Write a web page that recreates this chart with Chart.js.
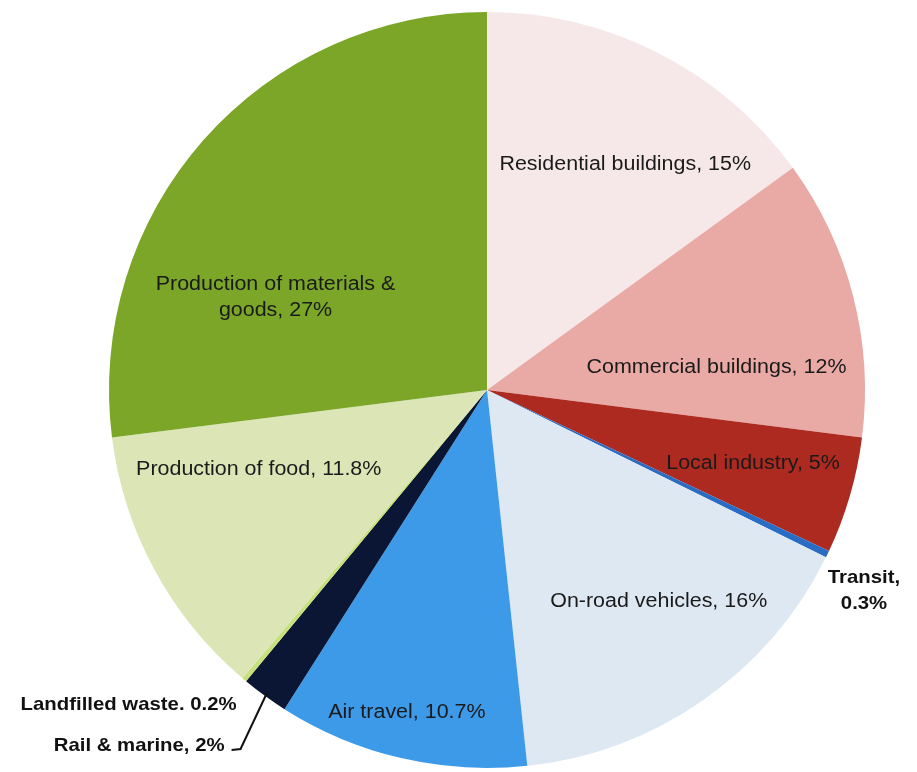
<!DOCTYPE html>
<html>
<head>
<meta charset="utf-8">
<script src="https://cdn.jsdelivr.net/npm/chart.js@4"></script>
<style>
  html, body { margin: 0; padding: 0; background: #fff; }
  #wrap { width: 917px; height: 772px; position: relative; }
</style>
</head>
<body>
<div id="wrap"><canvas id="chart"></canvas></div>
<script>
// 데이터 (12시 방향부터 시계방향)
const categories = [
  "Residential buildings", "Commercial buildings", "Local industry", "Transit",
  "On-road vehicles", "Air travel", "Rail & marine", "Landfilled waste",
  "Production of food", "Production of materials & goods"
];
const shares = [15, 12, 5, 0.3, 16, 10.7, 2, 0.2, 11.8, 27];
const labelTexts = [
  ["Residential buildings, 15%"],
  ["Commercial buildings, 12%"],
  ["Local industry, 5%"],
  ["Transit,", "0.3%"],
  ["On-road vehicles, 16%"],
  ["Air travel, 10.7%"],
  ["Rail & marine, 2%"],
  ["Landfilled waste. 0.2%"],
  ["Production of food, 11.8%"],
  ["Production of materials &", "goods, 27%"]
];
const sliceColors = [
  "#f6e8e8", "#e9aaa6", "#ad2a20", "#2a6cc4", "#dde8f3",
  "#3d9ae8", "#0b1634", "#c6e07a", "#dce5b6", "#7ba628"
];

// 라벨 위치: [반지름 비율, 각도 보정(도), 정렬, 바깥 라벨 여부]
const labelPlace = [
  [0.70, 4.5, "center", false],
  [0.61, 8.9, "center", false],
  [0.73, -0.8, "center", false],
  [1.13, 2.3, "center", true],
  [0.72, -4.2, "center", false],
  [0.88, 0.8, "center", false],
  [1.17, 0.4, "right", true],
  [1.065, -1.5, "right", true],
  [0.64, 9.1, "center", false],
  [0.61, -17.9, "center", false]
];

const sliceLabels = {
  id: "sliceLabels",
  afterDatasetsDraw(chart) {
    const ctx = chart.ctx;
    const arcs = chart.getDatasetMeta(0).data;
    ctx.save();
    arcs.forEach((arc, i) => {
      const p = arc.getProps(["x", "y", "startAngle", "endAngle", "outerRadius"], true);
      const [f, off, align, outside] = labelPlace[i];
      const a = (p.startAngle + p.endAngle) / 2 + off * Math.PI / 180;
      const lx = p.x + Math.cos(a) * p.outerRadius * f;
      const ly = p.y + Math.sin(a) * p.outerRadius * f;
      ctx.font = outside ? "bold 18.5px 'Liberation Sans', Arial, sans-serif"
                         : "19.5px 'Liberation Sans', Arial, sans-serif";
      ctx.fillStyle = outside ? "#111" : "#1a1a1a";
      ctx.textAlign = align;
      ctx.textBaseline = "middle";
      const lines = labelTexts[i];
      const lh = 26;
      lines.forEach((t, k) => {
        const y = ly + (k - (lines.length - 1) / 2) * lh;
        ctx.save();
        ctx.translate(lx, y);
        ctx.scale(1.1, 1);
        ctx.fillText(t, 0, 0);
        ctx.restore();
      });
      // Rail & marine 지시선
      if (i === 6) {
        const ma = (p.startAngle + p.endAngle) / 2;
        const ex = p.x + Math.cos(ma) * p.outerRadius * 0.99;
        const ey = p.y + Math.sin(ma) * p.outerRadius * 0.99;
        ctx.strokeStyle = "#111";
        ctx.lineWidth = 2;
        ctx.beginPath();
        ctx.moveTo(lx + 7, ly + 4);
        ctx.lineTo(lx + 16, ly + 3);
        ctx.lineTo(ex, ey);
        ctx.stroke();
      }
    });
    ctx.restore();
  }
};

const chartOption = {
  type: "pie",
  data: {
    labels: categories,
    datasets: [
      {
        data: shares,
        backgroundColor: sliceColors,
        borderWidth: 0,
      },
    ],
  },
  options: {
    responsive: true,
    maintainAspectRatio: false,
    animation: false,
    layout: { padding: { left: 109, right: 52, top: 12, bottom: 4 } },
    plugins: {
      legend: { display: false },
      tooltip: { enabled: false },
    },
  },
  plugins: [sliceLabels],
};

const $chart = document.getElementById("chart").getContext("2d");
new Chart($chart, chartOption);
</script>
</body>
</html>
